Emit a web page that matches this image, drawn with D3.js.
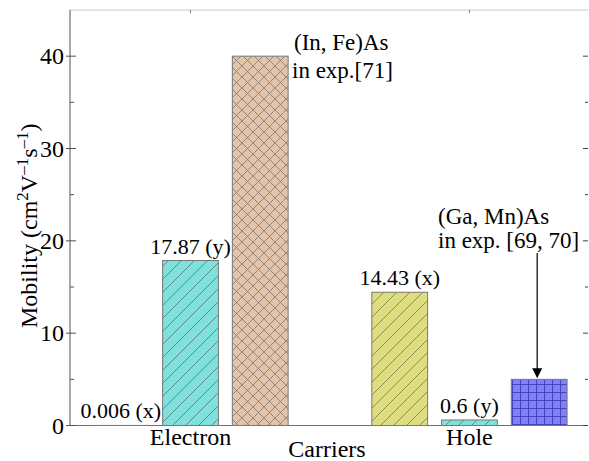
<!DOCTYPE html>
<html><head><meta charset="utf-8">
<script src="https://cdn.jsdelivr.net/npm/d3@7"></script>
</head><body style="margin:0;background:#fff">
<svg id="c" width="589" height="461"></svg>
<script>
const categories = ["Electron", "Hole"];
const categorySlots = [1, 5];
const barSlots = [0, 1, 2, 4, 5, 6];
const values = [0.006, 17.87, 40, 14.43, 0.6, 5];
const barLabels = ["0.006 (x)", "17.87 (y)", "", "14.43 (x)", "0.6 (y)", ""];
const barPatterns = ["cyanHatch", "cyanHatch", "brownCross", "yellowHatch", "cyanHatch", "blueGrid"];
const yTicks = [0, 10, 20, 30, 40];
const yMinor = [5, 15, 25, 35];
const annotations = [
  {lines: ["(In, Fe)As", "in exp.[71]"], slot: 2, value: 40},
  {lines: ["(Ga, Mn)As", "in exp. [69, 70]"], slot: 6, value: 5}
];

const FONT = '"Liberation Serif"';
const svg = d3.select("#c");
const L = 70, R = 588, T = 10, B = 425.5;
const x = d3.scaleLinear().domain([-0.728, 6.70]).range([L, R]);
const y = d3.scaleLinear().domain([0, 45]).range([B, T]);
const bw = 0.8 * (x(1) - x(0));

const defs = svg.append("defs");
function hatch(id, bg, col, s, d, sw) {
  const p = defs.append("pattern").attr("id", id).attr("patternUnits", "userSpaceOnUse")
    .attr("width", s).attr("height", s);
  p.append("rect").attr("width", s).attr("height", s).attr("fill", bg);
  p.append("path").attr("d", d(s)).attr("stroke", col).attr("stroke-width", sw).attr("fill", "none");
}
const fwd = s => `M0,${s}L${s},0M${-s/2},${s/2}L${s/2},${-s/2}M${s/2},${s*1.5}L${s*1.5},${s/2}`;
const bwd = s => `M0,0L${s},${s}M${-s/2},${s/2}L${s/2},${s*1.5}M${s/2},${-s/2}L${s*1.5},${s/2}`;
hatch("cyanHatch", "#80e0dc", "#4a6a6a", 13, fwd, 0.7);
hatch("yellowHatch", "#dede80", "#6a6a40", 13, fwd, 0.7);
hatch("brownCross", "#e2c4aa", "#7a6a60", 11, s => fwd(s) + bwd(s), 0.7);
hatch("blueGrid", "#8080ff", "#3838a8", 8, s => `M0,0.5H${s}M0.5,0V${s}`, 0.8);

// spines
svg.append("line").attr("x1", L).attr("x2", R).attr("y1", T).attr("y2", T).attr("stroke", "#c8c8c8").attr("stroke-width", 1);
svg.append("line").attr("x1", L).attr("x2", L).attr("y1", T).attr("y2", B).attr("stroke", "#707070").attr("stroke-width", 1.2);
svg.append("line").attr("x1", L).attr("x2", R).attr("y1", B).attr("y2", B).attr("stroke", "#707070").attr("stroke-width", 1.2);

// bars
svg.selectAll("rect.bar").data(values).enter().append("rect").attr("class", "bar")
  .attr("x", (d, i) => x(barSlots[i]) - bw / 2)
  .attr("y", d => y(d))
  .attr("width", bw)
  .attr("height", d => B - y(d))
  .attr("fill", (d, i) => `url(#${barPatterns[i]})`)
  .attr("stroke", "#787878").attr("stroke-width", 1);

// ticks
yTicks.forEach(v => svg.append("line").attr("x1", L - 4).attr("x2", L + 6).attr("y1", y(v)).attr("y2", y(v)).attr("stroke", "#505050"));
yMinor.forEach(v => svg.append("line").attr("x1", L).attr("x2", L + 4).attr("y1", y(v)).attr("y2", y(v)).attr("stroke", "#505050"));
yTicks.forEach(v => svg.append("line").attr("x1", R - 5).attr("x2", R).attr("y1", y(v)).attr("y2", y(v)).attr("stroke", "#404040"));
yMinor.forEach(v => svg.append("line").attr("x1", R - 3).attr("x2", R).attr("y1", y(v)).attr("y2", y(v)).attr("stroke", "#404040"));
categorySlots.forEach(s => svg.append("line").attr("x1", x(s)).attr("x2", x(s)).attr("y1", T).attr("y2", T + 3).attr("stroke", "#808080"));

// arrow (plain path, no marker)
const ax = x(annotations[1].slot) - 2;
const tipY = y(annotations[1].value) - 1;
svg.append("line").attr("x1", ax).attr("x2", ax).attr("y1", 253).attr("y2", tipY - 8)
  .attr("stroke", "#000").attr("stroke-width", 1.2);
svg.append("path").attr("d", `M${ax - 5},${tipY - 10}L${ax + 5},${tipY - 10}L${ax},${tipY}Z`).attr("fill", "#000");

// left tick labels (plain text, same method as the test page)
svg.selectAll("text.yt").data(yTicks).enter().append("text").attr("class", "yt")
  .attr("x", L - 6).attr("y", d => y(d) + 8).attr("text-anchor", "end")
  .attr("font-size", 24).style("font-family", FONT).text(d => d3.format("d")(d));

// category labels
svg.selectAll("text.cat").data(categories).enter().append("text").attr("class", "cat")
  .attr("x", (d, i) => x(categorySlots[i])).attr("y", 445).style("font-family", FONT)
  .attr("text-anchor", "middle").attr("font-size", 24).text(d => d);

// bar labels
svg.selectAll("text.bl").data(values).enter().append("text").attr("class", "bl")
  .attr("x", (d, i) => x(barSlots[i]))
  .attr("y", d => y(d) - 7)
  .attr("text-anchor", "middle").attr("font-size", 22).style("font-family", FONT)
  .text((d, i) => barLabels[i]);

// axis titles
svg.append("text").attr("x", (L + R) / 2 - 2).attr("y", 457).attr("text-anchor", "middle").style("font-family", FONT).attr("font-size", 24).text("Carriers");
const yl = svg.append("text").attr("transform", `translate(37,${(T + B) / 2 + 8}) rotate(-90)`).attr("text-anchor", "middle").style("font-family", FONT).attr("font-size", 24);
yl.append("tspan").text("Mobility (cm");
yl.append("tspan").attr("font-size", 17).attr("dy", -9).text("2");
yl.append("tspan").attr("dy", 9).text("V");
yl.append("tspan").attr("font-size", 17).attr("dy", -9).text("\u20131");
yl.append("tspan").attr("dy", 9).text("s");
yl.append("tspan").attr("font-size", 17).attr("dy", -9).text("\u20131");
yl.append("tspan").attr("dy", 9).text(")");

// annotations
svg.append("text").attr("x", 294).attr("y", 50).attr("font-size", 23).style("font-family", FONT).text(annotations[0].lines[0]);
svg.append("text").attr("x", 292).attr("y", 78).attr("font-size", 23).style("font-family", FONT).text(annotations[0].lines[1]);
svg.append("text").attr("x", 438).attr("y", 224).attr("font-size", 23).style("font-family", FONT).text(annotations[1].lines[0]);
svg.append("text").attr("x", 438).attr("y", 248).attr("font-size", 23).style("font-family", FONT).text(annotations[1].lines[1]);
</script>
</body></html>
